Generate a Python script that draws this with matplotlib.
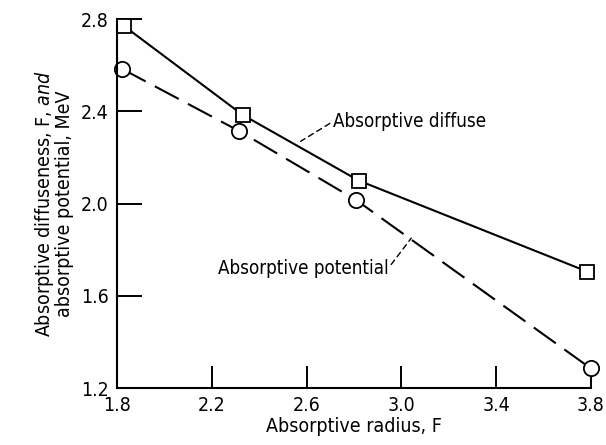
import matplotlib
matplotlib.use("Agg")
import matplotlib.pyplot as plt

radius_diff = [1.83, 2.33, 2.82, 3.785]
diffuseness = [2.77, 2.385, 2.10, 1.705]
radius_pot = [1.82, 2.315, 2.81, 3.80]
potential = [2.585, 2.315, 2.015, 1.285]
xticks = [1.8, 2.2, 2.6, 3.0, 3.4, 3.8]
yticks = [1.2, 1.6, 2.0, 2.4, 2.8]

plt.rcParams['font.family'] = ['DejaVu Sans']
plt.rcParams['font.stretch'] = 'condensed'

fig = plt.figure(figsize=(6.06, 4.45), dpi=100)
ax = fig.add_axes([0.193, 0.128, 0.782, 0.829])
ax.set_xlim(1.8, 3.8)
ax.set_ylim(1.2, 2.8)

ax.plot(radius_diff, diffuseness, '-', color='black', lw=1.5,
        marker='s', ms=10.5, mfc='white', mec='black', mew=1.3, clip_on=False)
ax.plot(radius_pot, potential, color='black', lw=1.5, dashes=(13, 5),
        marker='o', ms=11, mfc='white', mec='black', mew=1.3, clip_on=False)

for s in ['top', 'right']:
    ax.spines[s].set_visible(False)
for s in ['left', 'bottom']:
    ax.spines[s].set_linewidth(1.5)

ax.set_xticks(xticks)
ax.set_yticks(yticks)
ax.set_xticklabels([f"{v:.1f}" for v in xticks])
ax.set_yticklabels([f"{v:.1f}" for v in yticks])
ax.tick_params(direction='in', length=16, width=1.4, labelsize=14)
ax.tick_params(axis='x', pad=6)
ax.tick_params(axis='y', length=18, pad=6)

ax.set_xlabel('Absorptive radius, F', fontsize=14, labelpad=1)
ax.set_ylabel('Absorptive diffuseness, F, $\\it{and}$\nabsorptive potential, MeV',
              fontsize=14, labelpad=5, linespacing=0.95)

# annotations with dashed leaders
ax.annotate('Absorptive diffuse', xy=(2.575, 2.27), xytext=(2.71, 2.355),
            fontsize=13.5, va='center', ha='left',
            arrowprops=dict(arrowstyle='-', ls=(0, (4, 3)), color='black', lw=1.0,
                            shrinkA=0, shrinkB=0, relpos=(0.0, 0.5)))
ax.annotate('Absorptive potential', xy=(3.042, 1.85), xytext=(2.225, 1.72),
            fontsize=13.5, va='center', ha='left',
            arrowprops=dict(arrowstyle='-', ls=(0, (4, 3)), color='black', lw=1.0,
                            shrinkA=0, shrinkB=0, relpos=(1.0, 0.5)))

fig.savefig('out.png', dpi=100)
